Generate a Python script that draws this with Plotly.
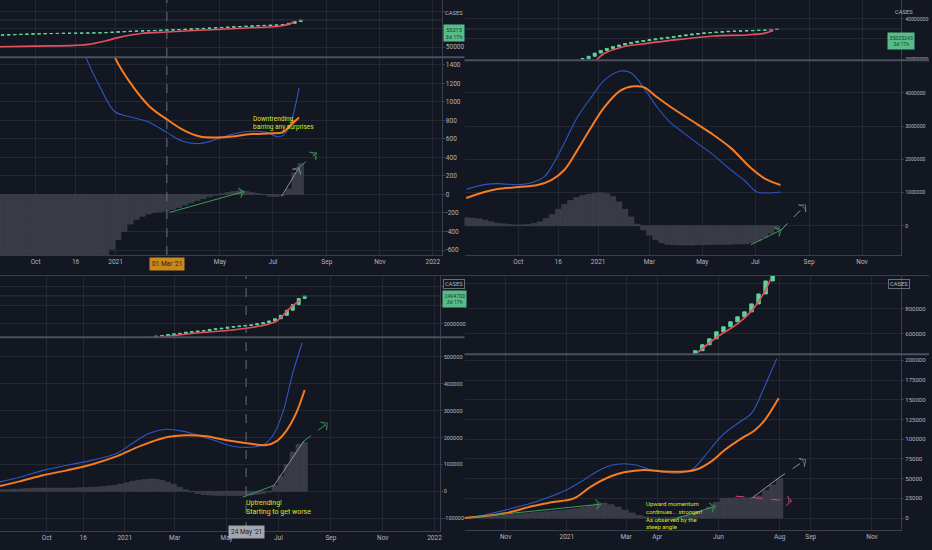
import pandas as pd
import plotly.graph_objects as go

# ---------------- data ----------------
# top left
tl_weeks = pd.date_range('2020-08-24', periods=50, freq='7D')
tl_hist = [-760, -770, -775, -780, -770, -760, -750, -745, -740, -735, -730, -725, -720, -715, -710, -700,
           -690, -670, -590, -485, -400, -320, -270, -235, -210, -195, -185, -175, -160, -140, -115, -90,
           -65, -45, -25, -8, 8, 20, 32, 40, 35, 22, 10, 0, -20, -22, -10, 60, 235, 333]
tl_close = [52380, 52420, 52460, 52500, 52540, 52580, 52610, 52640,
            52660, 52680, 52700, 52710, 52720, 52740, 52760, 52780, 52800,
            52850, 52920, 52990, 53050, 53100, 53140, 53180, 53220, 53260, 53300,
            53340, 53390, 53440, 53490, 53540, 53600, 53660, 53720, 53780, 53840,
            53900, 53960, 54020, 54080, 54140, 54190, 54240, 54280, 54320,
            54400, 54650, 55000, 55315]
tl_open0 = 52340
tl_red_dates = ['2020-08-21', '2020-10-01', '2020-11-15', '2020-12-01', '2020-12-20', '2021-01-05', '2021-01-30',
                '2021-03-01', '2021-04-15', '2021-06-01', '2021-07-10', '2021-07-20', '2021-07-26']
tl_red = [50060, 50200, 50350, 50530, 51200, 51900, 52650, 52960, 53350, 53740, 54140, 54530, 55060]
tl_blue_dates = ['2020-11-20', '2020-11-28', '2020-12-14', '2020-12-31', '2021-01-21', '2021-02-06', '2021-03-01',
                 '2021-03-19', '2021-04-08', '2021-04-27', '2021-05-15', '2021-06-01', '2021-06-24', '2021-07-05',
                 '2021-07-12', '2021-07-20', '2021-07-31']
tl_blue = [1750, 1480, 1163, 895, 830, 790, 670, 575, 550, 595, 650, 680, 670, 625, 635, 735, 1150]
tl_orange_dates = ['2020-12-24', '2020-12-31', '2021-01-21', '2021-02-09', '2021-03-01', '2021-03-19', '2021-04-08',
                   '2021-04-27', '2021-05-15', '2021-06-03', '2021-06-29', '2021-07-12', '2021-07-20', '2021-07-31']
tl_orange = [1650, 1480, 1163, 950, 810, 700, 625, 615, 625, 650, 660, 670, 735, 830]

# top right
tr_weeks = pd.date_range('2020-08-03', periods=52, freq='7D')
tr_hist = [240000, 230000, 210000, 170000, 120000, 80000, 60000, 40000, 30000, 30000,
           40000, 70000, 120000, 220000, 340000, 500000, 640000, 760000, 850000, 910000,
           950000, 980000, 1000000, 970000, 880000, 720000, 500000, 270000, 50000, -120000,
           -280000, -420000, -510000, -560000, -570000, -580000, -580000, -580000, -570000, -570000,
           -560000, -560000, -560000, -560000, -550000, -550000, -540000, -510000, -450000, -340000,
           -220000, -100000]
tr_candle_weeks = pd.date_range('2020-12-14', periods=33, freq='7D')
tr_close = [20200000, 21400000, 23000000, 24300000, 25300000, 26200000, 27000000, 27700000, 28300000,
            28800000, 29200000, 29600000, 30000000, 30400000, 30800000, 31200000, 31600000, 32000000,
            32400000, 32700000, 33000000, 33200000, 33400000, 33600000, 33800000, 33900000, 34000000,
            34100000, 34200000, 34350000, 34500000, 34750000, 35025243]
tr_open0 = 19900000
tr_red_dates = ['2020-12-30', '2021-01-08', '2021-01-27', '2021-02-26', '2021-04-05', '2021-05-14',
                '2021-06-21', '2021-07-11', '2021-07-22']
tr_red = [19600000, 22800000, 25800000, 27800000, 29800000, 31500000, 32000000, 32800000, 34200000]
tr_blue_dates = ['2020-08-02', '2020-08-23', '2020-09-07', '2020-10-02', '2020-10-16', '2020-10-31', '2020-11-11',
                 '2020-11-23', '2020-12-08', '2020-12-24', '2021-01-08', '2021-01-27', '2021-02-08', '2021-02-23',
                 '2021-03-10', '2021-03-26', '2021-04-10', '2021-04-25', '2021-05-11', '2021-06-03', '2021-06-18',
                 '2021-07-03', '2021-07-14', '2021-07-30']
tr_blue = [1100000, 1240000, 1270000, 1240000, 1300000, 1480000, 1900000, 2490000, 3270000, 3870000, 4380000,
           4660000, 4600000, 4140000, 3570000, 3090000, 2790000, 2490000, 2190000, 1680000, 1380000, 1020000,
           990000, 1020000]
tr_orange_dates = ['2020-08-02', '2020-08-23', '2020-09-07', '2020-10-02', '2020-10-23', '2020-11-08', '2020-11-23',
                   '2020-12-08', '2020-12-24', '2021-01-08', '2021-01-27', '2021-02-11', '2021-02-23', '2021-03-10',
                   '2021-03-26', '2021-04-18', '2021-05-11', '2021-06-03', '2021-06-26', '2021-07-11', '2021-07-30']
tr_orange = [840000, 1020000, 1110000, 1170000, 1230000, 1380000, 1680000, 2280000, 2970000, 3570000, 4080000,
             4200000, 4170000, 3870000, 3570000, 3180000, 2790000, 2340000, 1740000, 1440000, 1230000]

# bottom left
bl_weeks = pd.date_range('2020-08-09', periods=52, freq='7D')
bl_hist = [6000, 7000, 8000, 9000, 10000, 11000, 12000, 12000, 12000, 12000,
           12000, 12000, 12000, 13000, 14000, 15000, 16000, 18000, 20000, 23000,
           27000, 32000, 37000, 41000, 44000, 46000, 45000, 41000, 34000, 25000,
           15000, 6000, -2000, -8000, -12000, -14000, -15000, -16000, -16000, -16000,
           -16000, -15000, -14000, -12000, -8000, -3000, 22000, 56000, 101000, 146000,
           175000, 182000]
bl_candle_weeks = pd.date_range('2021-01-31', periods=27, freq='7D')
bl_close = [1760000, 1780000, 1790000, 1810000, 1820000, 1830000, 1850000, 1860000, 1870000, 1880000,
            1900000, 1910000, 1920000, 1940000, 1950000, 1960000, 1970000, 1980000, 2000000, 2020000,
            2050000, 2090000, 2150000, 2240000, 2340000, 2450000, 2494700]
bl_open0 = 1750000
bl_red_dates = ['2021-02-08', '2021-03-30', '2021-05-08', '2021-06-09', '2021-06-29', '2021-07-14', '2021-07-26']
bl_red = [1752000, 1840000, 1890000, 1960000, 2050000, 2270000, 2410000]
bl_blue_dates = ['2020-08-07', '2020-08-30', '2020-09-27', '2020-10-25', '2020-11-24', '2020-12-23', '2021-01-10',
                 '2021-01-30', '2021-02-19', '2021-03-10', '2021-03-30', '2021-04-19', '2021-05-08', '2021-05-28',
                 '2021-06-12', '2021-06-24', '2021-07-06', '2021-07-18', '2021-07-29']
bl_blue = [35000, 52000, 78000, 97000, 116000, 142000, 179000, 216000, 231000, 224000, 207000, 187000, 168000,
           164000, 172000, 205000, 291000, 440000, 552000]
bl_orange_dates = ['2020-08-07', '2020-08-30', '2020-09-27', '2020-10-25', '2020-11-24', '2020-12-23', '2021-01-19',
                   '2021-02-19', '2021-03-15', '2021-04-07', '2021-05-01', '2021-05-25', '2021-06-17', '2021-06-29',
                   '2021-07-11', '2021-07-22', '2021-08-01']
bl_orange = [20000, 37000, 60000, 78000, 101000, 131000, 168000, 201000, 209000, 205000, 190000, 179000, 172000,
             187000, 228000, 291000, 377000]

# bottom right
br_weeks = pd.date_range('2020-09-20', periods=46, freq='7D')
br_hist = [300, 800, 1200, 1700, 2300, 3000, 3800, 4600, 5400, 6200,
           7000, 7800, 8600, 9300, 10000, 10800, 11800, 13500, 16000, 18000,
           19000, 17000, 14000, 10000, 6500, 3500, 1500, 500, 300, 500,
           1000, 2500, 4000, 6000, 9000, 14000, 20000, 25000, 25500, 25500,
           25500, 26000, 28000, 35000, 42000, 50000]
br_candle_weeks = pd.date_range('2021-05-09', periods=12, freq='7D')
br_close = [464000, 512000, 560000, 616000, 656000, 696000, 736000, 776000, 840000, 920000, 1024000, 1070000]
br_open0 = 440000
br_red_dates = ['2021-05-11', '2021-05-31', '2021-06-20', '2021-07-04', '2021-07-17', '2021-07-23']
br_red = [448000, 576000, 680000, 784000, 936000, 1040000]
br_blue_dates = ['2020-09-21', '2020-10-11', '2020-10-31', '2020-11-27', '2020-12-17', '2021-01-01', '2021-01-15',
                 '2021-01-31', '2021-02-14', '2021-02-27', '2021-03-12', '2021-03-26', '2021-04-08', '2021-04-21',
                 '2021-05-05', '2021-05-18', '2021-06-04', '2021-06-20', '2021-07-04', '2021-07-17', '2021-07-29']
br_blue = [0, 4000, 10000, 19000, 28000, 36000, 46000, 59000, 67000, 69000, 67000, 61000, 58000, 57000, 61000,
           78000, 104000, 120000, 133000, 167000, 202000]
br_orange_dates = ['2020-09-21', '2020-10-31', '2020-11-27', '2020-12-17', '2021-01-08', '2021-01-25', '2021-02-14',
                   '2021-02-27', '2021-03-19', '2021-04-08', '2021-04-28', '2021-05-11', '2021-05-25', '2021-06-07',
                   '2021-06-24', '2021-07-07', '2021-07-17', '2021-07-31']
br_orange = [0, 6000, 15000, 20000, 25000, 40000, 53000, 58000, 61000, 59000, 59000, 62000, 72000, 86000, 101000,
             111000, 124000, 152000]

# ---------------- style ----------------
BG = '#131722'
GRID = '#242834'
AXLINE = '#3b3f4b'
TXT = '#b2b5be'
SEP = '#4c505c'
BLUE = '#2f56c4'
ORANGE = '#f57c22'
RED = '#e4505f'
CANDLE = '#5cd39a'
HIST = '#383b45'
HIST_EDGE = '#464953'
GREEN_ARROW = '#3f9a5a'
GRAY_ARROW = '#8e919a'
PINK_ARROW = '#d9436f'
YELLOW = '#dde31f'
FONT = 'Roboto, sans-serif'

fig = go.Figure()


def add_panel(n, weeks, hist, cweeks, closes, open0, red_d, red_v, blue_d, blue_v, orange_d, orange_v):
    xa = 'x' if n == 1 else 'x%d' % n
    yo = 'y' if n == 1 else 'y%d' % n
    yp = 'y%d' % (n + 4)
    fig.add_trace(go.Bar(x=weeks, y=hist, xaxis=xa, yaxis=yo,
                         marker=dict(color=HIST, line=dict(color=HIST_EDGE, width=0.5))))
    opens = [open0] + closes[:-1]
    fig.add_trace(go.Candlestick(
        x=cweeks, open=opens, close=closes,
        high=[max(o, c) for o, c in zip(opens, closes)],
        low=[min(o, c) for o, c in zip(opens, closes)],
        xaxis=xa, yaxis=yp, whiskerwidth=0,
        increasing=dict(fillcolor=CANDLE, line=dict(color=CANDLE, width=1)),
        decreasing=dict(fillcolor=CANDLE, line=dict(color=CANDLE, width=1))))
    fig.add_trace(go.Scatter(x=red_d, y=red_v, mode='lines', xaxis=xa, yaxis=yp,
                             line=dict(color=RED, width=1.6, shape='spline')))
    fig.add_trace(go.Scatter(x=blue_d, y=blue_v, mode='lines', xaxis=xa, yaxis=yo,
                             line=dict(color=BLUE, width=1.1, shape='spline')))
    fig.add_trace(go.Scatter(x=orange_d, y=orange_v, mode='lines', xaxis=xa, yaxis=yo,
                             line=dict(color=ORANGE, width=2, shape='spline')))


def arrow(n, xs, ys, color, dash='solid', head=True):
    xa = 'x' if n == 1 else 'x%d' % n
    yo = 'y' if n == 1 else 'y%d' % n
    fig.add_trace(go.Scatter(
        x=xs, y=ys, mode='lines+markers', xaxis=xa, yaxis=yo,
        line=dict(color=color, width=1, dash=dash),
        marker=dict(symbol='arrow-wide-open', angleref='previous',
                    size=[0, 7 if head else 0], color=color, line=dict(color=color, width=1))))


add_panel(1, tl_weeks, tl_hist, tl_weeks, tl_close, tl_open0, tl_red_dates, tl_red,
          tl_blue_dates, tl_blue, tl_orange_dates, tl_orange)
add_panel(2, tr_weeks, tr_hist, tr_candle_weeks, tr_close, tr_open0, tr_red_dates, tr_red,
          tr_blue_dates, tr_blue, tr_orange_dates, tr_orange)
add_panel(3, bl_weeks, bl_hist, bl_candle_weeks, bl_close, bl_open0, bl_red_dates, bl_red,
          bl_blue_dates, bl_blue, bl_orange_dates, bl_orange)
add_panel(4, br_weeks, br_hist, br_candle_weeks, br_close, br_open0, br_red_dates, br_red,
          br_blue_dates, br_blue, br_orange_dates, br_orange)

# trend arrows drawn on the oscillators
arrow(1, ['2021-03-04', '2021-05-29'], [-194, 32], GREEN_ARROW)
arrow(1, ['2021-07-11', '2021-07-31'], [-20, 290], GRAY_ARROW)
arrow(1, ['2021-07-31', '2021-08-20'], [290, 450], GREEN_ARROW, 'dash')
arrow(2, ['2021-06-26', '2021-07-31'], [-570000, -120000], GREEN_ARROW)
arrow(2, ['2021-07-31', '2021-08-28'], [-120000, 630000], GRAY_ARROW, 'dash')
arrow(3, ['2021-05-20', '2021-06-26'], [-22000, 22000], GREEN_ARROW, head=False)
arrow(3, ['2021-06-26', '2021-07-31'], [22000, 187000], GRAY_ARROW, head=False)
arrow(3, ['2021-07-31', '2021-08-28'], [187000, 254000], GREEN_ARROW, 'dash')
arrow(4, ['2020-09-21', '2021-02-04'], [0, 17700], GREEN_ARROW)
arrow(4, ['2021-04-15', '2021-05-29'], [-2500, 15000], GREEN_ARROW)
arrow(4, ['2021-07-04', '2021-07-30'], [25000, 50000], GRAY_ARROW, head=False)
arrow(4, ['2021-07-30', '2021-08-27'], [50000, 74000], GRAY_ARROW, 'dash')
arrow(4, ['2021-06-18', '2021-08-13'], [27800, 21500], PINK_ARROW, 'dash')

W, H = 932.0, 550.0


def px(x):
    return x / W


def py(y):
    return 1 - y / H


panels = [
    # x domain, osc domain, price domain, x range, osc range, price range
    dict(xd=[0, px(443)], od=[py(256), py(58)], pd_=[py(57), 1.0],
         xr=['2020-08-21', '2022-01-11'], orng=[-654, 1475], prng=[48111, 59209],
         xt=['2020-10-01', '2020-11-16', '2021-01-01', '2021-03-01', '2021-05-01', '2021-07-01',
             '2021-09-01', '2021-11-01', '2022-01-01'],
         xtt=['Oct', '16', '2021', '', 'May', 'Jul', 'Sep', 'Nov', '2022'],
         ot=[-600, -400, -200, 0, 200, 400, 600, 800, 1000, 1200, 1400],
         pt=[50000, 53560, 56870], ptt=['50000', '', ''], fs=6.5),
    dict(xd=[px(466), px(904)], od=[py(256), py(61)], pd_=[py(60), 1.0],
         xr=['2020-07-31', '2021-12-16'], orng=[-880000, 4970000], prng=[19650000, 49400000],
         xt=['2020-10-01', '2020-11-16', '2021-01-01', '2021-03-01', '2021-05-01', '2021-07-01',
             '2021-09-01', '2021-11-01'],
         xtt=['Oct', '16', '2021', 'Mar', 'May', 'Jul', 'Sep', 'Nov'],
         ot=[0, 1000000, 2000000, 3000000, 4000000],
         pt=[20000000, 30000000, 40000000], ptt=['20000000', '', '40000000'], fs=5.2),
    dict(xd=[0, px(441)], od=[py(533), py(339)], pd_=[py(338), py(277)],
         xr=['2020-08-07', '2022-01-07'], orng=[-148000, 571600], prng=[1770000, 2848000],
         xt=['2020-10-01', '2020-11-13', '2021-01-01', '2021-03-01', '2021-05-01', '2021-07-01',
             '2021-09-01', '2021-11-01', '2022-01-01'],
         xtt=['Oct', '16', '2021', 'Mar', 'May', 'Jul', 'Sep', 'Nov', '2022'],
         ot=[-100000, 0, 100000, 200000, 300000, 400000, 500000],
         pt=[2000000, 2320000, 2670000], ptt=['2000000', '', ''], fs=5.6),
    dict(xd=[px(466), px(904)], od=[py(532), py(356)], pd_=[py(355), py(277)],
         xr=['2020-09-21', '2021-11-30'], orng=[-15200, 207200], prng=[440000, 1064000],
         xt=['2020-11-01', '2021-01-01', '2021-03-01', '2021-04-01', '2021-06-01', '2021-08-01',
             '2021-09-01', '2021-11-01'],
         xtt=['Nov', '2021', 'Mar', 'Apr', 'Jun', 'Aug', 'Sep', 'Nov'],
         ot=[0, 25000, 50000, 75000, 100000, 125000, 150000, 175000, 200000],
         pt=[600000, 800000, 1000000], ptt=['600000', '800000', ''], fs=6),
]

layout = dict(width=932, height=550, margin=dict(l=0, r=0, t=0, b=0),
              paper_bgcolor=BG, plot_bgcolor=BG, showlegend=False,
              bargap=0.08, font=dict(family=FONT, size=7, color=TXT))
for i, p in enumerate(panels):
    n = i + 1
    s = '' if n == 1 else str(n)
    layout['xaxis' + s] = dict(
        domain=p['xd'], anchor='y' + s, type='date', range=p['xr'],
        tickvals=p['xt'], ticktext=p['xtt'], showgrid=True, gridcolor=GRID, gridwidth=1,
        showline=True, linecolor=AXLINE, ticks='', tickfont=dict(size=6.5, color=TXT),
        rangeslider=dict(visible=False), zeroline=False, fixedrange=True)
    layout['yaxis' + s] = dict(
        domain=p['od'], anchor='x' + s, side='right', range=p['orng'],
        tickvals=p['ot'], ticktext=[str(v) for v in p['ot']], showgrid=True, gridcolor=GRID,
        showline=True, linecolor=AXLINE, ticks='outside', ticklen=2, tickcolor=AXLINE,
        tickfont=dict(size=p['fs'], color=TXT), zeroline=False)
    layout['yaxis%d' % (n + 4)] = dict(
        domain=p['pd_'], anchor='x' + s, side='right', range=p['prng'],
        tickvals=p['pt'], ticktext=p['ptt'], showgrid=True, gridcolor=GRID,
        showline=True, linecolor=AXLINE, ticks='outside', ticklen=2, tickcolor=AXLINE,
        tickfont=dict(size=p['fs'], color=TXT), zeroline=False)
fig.update_layout(**layout)

# pane separators and panel borders
for x0, x1, y in [(0, 466, 57.5), (466, 932, 60.5), (0, 466, 338.5), (466, 932, 355.5)]:
    fig.add_shape(type='line', xref='paper', yref='paper', x0=px(x0), x1=px(x1), y0=py(y), y1=py(y),
                  line=dict(color=SEP, width=2))
fig.add_shape(type='line', xref='paper', yref='paper', x0=0, x1=1, y0=py(276.5), y1=py(276.5),
              line=dict(color=AXLINE, width=1))

# last price lines
for xref, yref, val in [('x domain', 'y5', 55315), ('x2 domain', 'y6', 35025243), ('x3 domain', 'y7', 2494700)]:
    fig.add_shape(type='line', xref=xref, yref=yref, x0=0, x1=1, y0=val, y1=val,
                  line=dict(color='#2f3441', width=1))

# crosshair lines
fig.add_shape(type='line', xref='x', yref='paper', x0='2021-03-01', x1='2021-03-01', y0=py(256), y1=1,
              line=dict(color='#6a6d78', width=1, dash='dash'))
fig.add_shape(type='line', xref='x3', yref='paper', x0='2021-05-24', x1='2021-05-24', y0=py(533), y1=py(277),
              line=dict(color='#6a6d78', width=1, dash='dash'))

ann = []
# crosshair date labels
ann.append(dict(x='2021-03-01', xref='x', y=py(265), yref='paper', text="01 Mar '21", showarrow=False,
                bgcolor='#c98a1c', font=dict(size=6.5, color='#1c1f28'), borderpad=2))
ann.append(dict(x='2021-05-24', xref='x3', y=py(541), yref='paper', text="24 May '21", showarrow=False,
                bgcolor='#a3a6af', font=dict(size=6.5, color='#1c1f28'), borderpad=2))
# last value boxes
for xx, yy, txt, fs in [(455.5, 24, '55315<br>3d 17h', 5.6), (918, 32, '35025243<br>3d 17h', 5.2),
                        (455.5, 300, '2494700<br>3d 17h', 5.2)]:
    ann.append(dict(x=px(xx), y=py(yy), xref='paper', yref='paper', text=txt, showarrow=False,
                    bgcolor='#56bd89', font=dict(size=fs, color='#1d3b2c'), borderpad=1.5))
# series name labels
for xx, yy, border in [(455.5, 8, False), (918, 7, False), (455.5, 285, True), (913, 285, True)]:
    ann.append(dict(x=px(xx), y=py(yy), xref='paper', yref='paper', text='CASES', showarrow=False,
                    font=dict(size=5.8, color=TXT), bordercolor='#6a6d78' if border else 'rgba(0,0,0,0)',
                    borderwidth=1, borderpad=1))
# comments
ann.append(dict(x='2021-06-06', xref='x', y=880, yref='y', text='Downtrending,<br>barring any surprises',
                showarrow=False, xanchor='left', yanchor='top', align='left',
                font=dict(size=6.5, color=YELLOW)))
ann.append(dict(x='2021-05-22', xref='x3', y=-20000, yref='y3', text='Uptrending!<br>Starting to get worse',
                showarrow=False, xanchor='left', yanchor='top', align='left',
                font=dict(size=7, color=YELLOW)))
ann.append(dict(x='2021-03-19', xref='x4', y=25000, yref='y4',
                text='Upward momentum<br>continues... stronger!<br>As observed by the<br>steep angle',
                showarrow=False, xanchor='left', yanchor='top', align='left',
                font=dict(size=6, color=YELLOW)))
fig.update_layout(annotations=ann)

fig.write_html("out.html", config={'displayModeBar': False},
               post_script="document.body.style.margin='0';document.body.style.background='#131722';")
